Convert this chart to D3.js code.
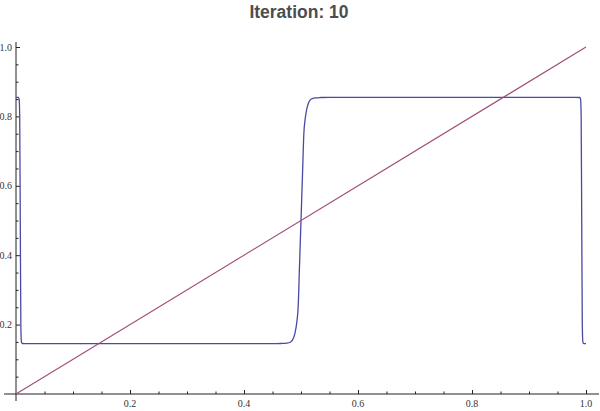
<!DOCTYPE html>
<html>
<head>
<meta charset="utf-8">
<script src="https://cdn.jsdelivr.net/npm/d3@7"></script>
<style>
  html, body { margin: 0; padding: 0; background: #fff; }
  svg { display: block; }
</style>
</head>
<body>
<svg id="chart" width="600" height="411"></svg>
<script>
// ---- data ----
const titleText = "Iteration: 10";
const blueX = [0, 0.004, 0.0055, 0.0065, 0.0075, 0.0085, 0.0095, 0.011, 0.02,
  0.3, 0.45, 0.465, 0.475, 0.482, 0.487, 0.490, 0.4925, 0.495, 0.4975, 0.5,
  0.5025, 0.505, 0.5075, 0.510, 0.513, 0.518, 0.525, 0.535, 0.55, 0.7, 0.98,
  0.989, 0.9905, 0.9915, 0.9925, 0.9935, 0.9945, 0.996, 1.0];
const blueY = [0.855, 0.855, 0.85, 0.80, 0.5, 0.20, 0.150, 0.1455, 0.145,
  0.145, 0.145, 0.1455, 0.1465, 0.150, 0.162, 0.180, 0.205, 0.25, 0.375, 0.5,
  0.625, 0.75, 0.795, 0.82, 0.838, 0.85, 0.8535, 0.8545, 0.855, 0.855, 0.855,
  0.8545, 0.85, 0.80, 0.5, 0.2, 0.15, 0.145, 0.145];
const diagX = [0, 1];
const diagY = [0, 1];
const majorTicks = [0.2, 0.4, 0.6, 0.8, 1.0];
const majorLabels = ["0.2", "0.4", "0.6", "0.8", "1.0"];
const minorTicks = [0.05, 0.1, 0.15, 0.25, 0.3, 0.35, 0.45, 0.5, 0.55, 0.65, 0.7, 0.75, 0.85, 0.9, 0.95];

// ---- drawing ----
const svg = d3.select("#chart");
const x = d3.scaleLinear().domain([0, 1]).range([16, 586]);
const y = d3.scaleLinear().domain([0, 1]).range([394, 47]);

svg.append("text")
  .attr("x", 299).attr("y", 18)
  .attr("text-anchor", "middle")
  .attr("font-family", "Liberation Sans, Arial, sans-serif")
  .attr("font-weight", "bold")
  .attr("font-size", 17.5)
  .attr("fill", "#4d4d4d")
  .text(titleText);

const axisColor = "#222";
// axis lines
svg.append("line").attr("x1", 4).attr("x2", 599).attr("y1", y(0)).attr("y2", y(0))
  .attr("stroke", axisColor).attr("stroke-width", 1);
svg.append("line").attr("x1", x(0)).attr("x2", x(0)).attr("y1", 401).attr("y2", 42)
  .attr("stroke", axisColor).attr("stroke-width", 1);

// x ticks (inward)
const xAxis = d3.axisTop(x).tickValues(majorTicks).tickSize(4).tickFormat("");
const gx = svg.append("g").attr("transform", `translate(0,${y(0)})`).call(xAxis);
const xMinor = d3.axisTop(x).tickValues(minorTicks).tickSize(2.5).tickFormat("");
const gxm = svg.append("g").attr("transform", `translate(0,${y(0)})`).call(xMinor);
// y ticks (inward)
const yAxis = d3.axisRight(y).tickValues(majorTicks).tickSize(4).tickFormat("");
const gy = svg.append("g").attr("transform", `translate(${x(0)},0)`).call(yAxis);
const yMinor = d3.axisRight(y).tickValues(minorTicks).tickSize(2.5).tickFormat("");
const gym = svg.append("g").attr("transform", `translate(${x(0)},0)`).call(yMinor);
[gx, gxm, gy, gym].forEach(g => {
  g.select(".domain").remove();
  g.selectAll("line").attr("stroke", axisColor);
});

// tick labels
svg.append("g").selectAll("text").data(majorTicks).join("text")
  .attr("x", d => x(d)).attr("y", 407)
  .attr("text-anchor", "middle")
  .attr("font-family", "Liberation Serif, Times New Roman, serif")
  .attr("font-size", 10).attr("fill", "#333")
  .text((d, i) => majorLabels[i]);
svg.append("g").selectAll("text").data(majorTicks).join("text")
  .attr("x", 12).attr("y", d => y(d) + 3.5)
  .attr("text-anchor", "end")
  .attr("font-family", "Liberation Serif, Times New Roman, serif")
  .attr("font-size", 10).attr("fill", "#333")
  .text((d, i) => majorLabels[i]);

// lines
const line = d3.line().x(d => x(d[0])).y(d => y(d[1])).curve(d3.curveMonotoneX);
svg.append("path")
  .datum(blueX.map((v, i) => [v, blueY[i]]))
  .attr("d", line)
  .attr("fill", "none").attr("stroke", "#4a4aa3").attr("stroke-width", 1.3);
svg.append("path")
  .datum(diagX.map((v, i) => [v, diagY[i]]))
  .attr("d", d3.line().x(d => x(d[0])).y(d => y(d[1])))
  .attr("fill", "none").attr("stroke", "#a04b78").attr("stroke-width", 1.1);
</script>
</body>
</html>
